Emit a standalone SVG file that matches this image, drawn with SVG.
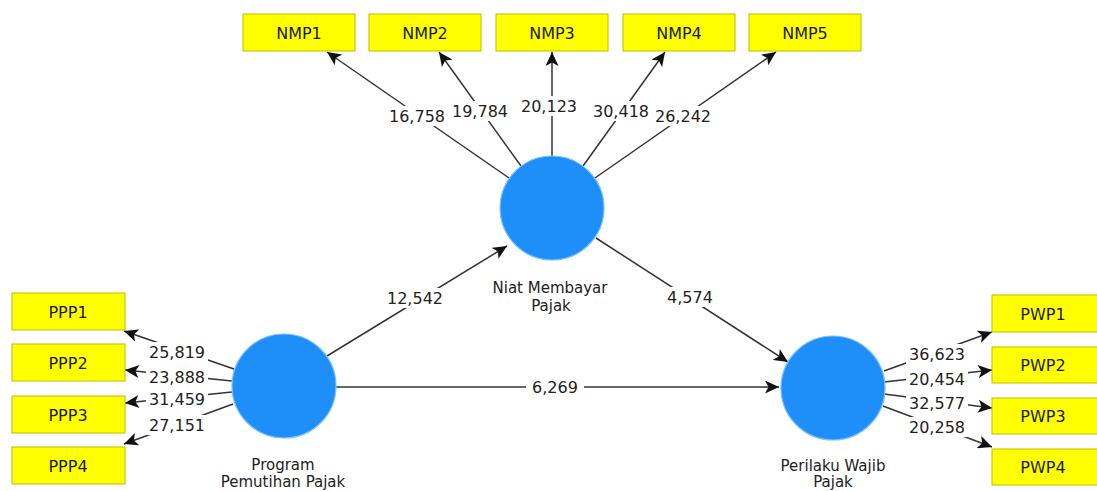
<svg xmlns="http://www.w3.org/2000/svg" width="1097" height="491" viewBox="0 0 1097 491">
<style>
.box{fill:#ffff00;stroke:#bdbd00;stroke-width:1}
.lv{fill:#1e8ff8;stroke:#7cc0ff;stroke-width:1.2}
.bt{font-family:"DejaVu Sans",sans-serif;font-size:16px;fill:#1a1a1a;text-anchor:middle}
.ct{font-family:"DejaVu Sans",sans-serif;font-size:15px;fill:#222;text-anchor:middle}
.ln{stroke:#333;stroke-width:1.5;fill:none;marker-end:url(#arr)}
.lb{fill:#fff}
.nt{font-family:"DejaVu Sans",sans-serif;font-size:16px;fill:#222;text-anchor:middle}
</style>
<defs>
<marker id="arr" markerUnits="userSpaceOnUse" markerWidth="15" markerHeight="13" refX="14" refY="6.5" orient="auto">
<path d="M0,0 L14,6.5 L0,13 L3.5,6.5 z" fill="#111"/>
</marker>
</defs>
<rect width="1097" height="491" fill="#fff"/>

<g id="connectors">
<line class="ln" x1="509" y1="178" x2="327" y2="52"/>
<line class="ln" x1="521" y1="166" x2="439" y2="52"/>
<line class="ln" x1="552" y1="156" x2="552" y2="52"/>
<line class="ln" x1="583" y1="166" x2="665" y2="52"/>
<line class="ln" x1="595" y1="178" x2="776" y2="52"/>
<line class="ln" x1="234" y1="369" x2="124" y2="331"/>
<line class="ln" x1="232" y1="381" x2="125" y2="370"/>
<line class="ln" x1="232" y1="392" x2="125" y2="403"/>
<line class="ln" x1="233" y1="404" x2="124" y2="444"/>
<line class="ln" x1="884" y1="371" x2="992" y2="332"/>
<line class="ln" x1="884" y1="382" x2="992" y2="370"/>
<line class="ln" x1="884" y1="394" x2="992" y2="408"/>
<line class="ln" x1="883" y1="406" x2="992" y2="447"/>
<line class="ln" x1="327" y1="356" x2="507" y2="246"/>
<line class="ln" x1="596" y1="238" x2="788" y2="362"/>
<line class="ln" x1="336" y1="387" x2="779" y2="387"/>

<rect class="lb" x="387" y="106" width="61" height="20"/>
<rect class="lb" x="450" y="101" width="61" height="20"/>
<rect class="lb" x="519" y="96" width="61" height="20"/>
<rect class="lb" x="590" y="101" width="61" height="20"/>
<rect class="lb" x="653" y="106" width="61" height="20"/>
<rect class="lb" x="146" y="342" width="62" height="20"/>
<rect class="lb" x="146" y="367" width="62" height="20"/>
<rect class="lb" x="146" y="389" width="62" height="20"/>
<rect class="lb" x="146" y="415" width="62" height="20"/>
<rect class="lb" x="906" y="344" width="62" height="20"/>
<rect class="lb" x="906" y="369" width="62" height="20"/>
<rect class="lb" x="906" y="393" width="62" height="20"/>
<rect class="lb" x="906" y="417" width="62" height="20"/>
<rect class="lb" x="385" y="288" width="60" height="20"/>
<rect class="lb" x="664" y="287" width="52" height="20"/>
<rect class="lb" x="526" y="377" width="58" height="20"/>

<text class="nt" x="417" y="122">16,758</text>
<text class="nt" x="480" y="117">19,784</text>
<text class="nt" x="549" y="112">20,123</text>
<text class="nt" x="621" y="117">30,418</text>
<text class="nt" x="683" y="122">26,242</text>
<text class="nt" x="177" y="358">25,819</text>
<text class="nt" x="177" y="383">23,888</text>
<text class="nt" x="177" y="405">31,459</text>
<text class="nt" x="177" y="431">27,151</text>
<text class="nt" x="937" y="360">36,623</text>
<text class="nt" x="937" y="385">20,454</text>
<text class="nt" x="937" y="409">32,577</text>
<text class="nt" x="937" y="433">20,258</text>
<text class="nt" x="415" y="304">12,542</text>
<text class="nt" x="690" y="303">4,574</text>
<text class="nt" x="555" y="393">6,269</text>
</g>

<g id="NMP1"><rect class="box" x="243" y="14" width="112" height="37"/><text class="bt" x="299" y="38.5">NMP1</text></g>
<g id="NMP2"><rect class="box" x="369" y="14" width="112" height="37"/><text class="bt" x="425" y="38.5">NMP2</text></g>
<g id="NMP3"><rect class="box" x="496" y="14" width="112" height="37"/><text class="bt" x="552" y="38.5">NMP3</text></g>
<g id="NMP4"><rect class="box" x="623" y="14" width="112" height="37"/><text class="bt" x="679" y="38.5">NMP4</text></g>
<g id="NMP5"><rect class="box" x="749" y="14" width="112" height="37"/><text class="bt" x="805" y="38.5">NMP5</text></g>

<g id="PPP1"><rect class="box" x="12" y="293" width="113" height="37"/><text class="bt" x="68" y="317.5">PPP1</text></g>
<g id="PPP2"><rect class="box" x="12" y="344" width="113" height="37"/><text class="bt" x="68" y="368.5">PPP2</text></g>
<g id="PPP3"><rect class="box" x="12" y="396" width="113" height="37"/><text class="bt" x="68" y="420.5">PPP3</text></g>
<g id="PPP4"><rect class="box" x="12" y="447" width="113" height="37"/><text class="bt" x="68" y="471.5">PPP4</text></g>

<g id="PWP1"><rect class="box" x="992" y="295" width="112" height="37"/><text class="bt" x="1043" y="319.5">PWP1</text></g>
<g id="PWP2"><rect class="box" x="992" y="347" width="112" height="36"/><text class="bt" x="1043" y="371">PWP2</text></g>
<g id="PWP3"><rect class="box" x="992" y="398" width="112" height="36"/><text class="bt" x="1043" y="422">PWP3</text></g>
<g id="PWP4"><rect class="box" x="992" y="449" width="112" height="36"/><text class="bt" x="1043" y="473">PWP4</text></g>

<g id="NiatMembayarPajak"><circle class="lv" cx="552" cy="208" r="52"/><text class="ct" x="550" y="292.5">Niat Membayar</text><text class="ct" x="551" y="310.5">Pajak</text></g>
<g id="ProgramPemutihanPajak"><circle class="lv" cx="284" cy="386" r="52"/><text class="ct" x="283" y="469.5">Program</text><text class="ct" x="283" y="487">Pemutihan Pajak</text></g>
<g id="PerilakuWajibPajak"><circle class="lv" cx="833" cy="388" r="52"/><text class="ct" x="833" y="470.5">Perilaku Wajib</text><text class="ct" x="833" y="487">Pajak</text></g>
</svg>
